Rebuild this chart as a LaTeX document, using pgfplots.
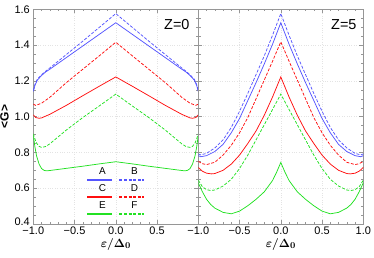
\documentclass[border=0pt]{standalone}
\usepackage{pgfplots}
\pgfplotsset{compat=1.18}
\usepackage{fontspec}
\setmainfont{Liberation Sans}
\usepackage{bm}
\definecolor{cblue}{RGB}{85,85,255}
\definecolor{cred}{RGB}{255,15,15}
\definecolor{cgreen}{RGB}{35,225,35}
\definecolor{frm}{RGB}{150,150,150}
\pgfplotsset{
  panel/.style={
    width=165bp, height=214.7bp, scale only axis,
    xmin=-1, xmax=1, ymin=0.4, ymax=1.6,
    axis line style={frm, line width=0.5bp},
    tick style={frm, line width=0.4bp},
    major tick length=4bp, minor tick length=2.2bp,
    tick align=inside,
    minor x tick num=4, minor y tick num=3,
    grid=major, grid style={gray!22, dotted, line width=0.4bp},
    ytick={0.4,0.6,0.8,1.0,1.2,1.4,1.6},
    every tick label/.append style={font=\fontsize{11}{12}\selectfont},
    xticklabel style={yshift=1bp},
    xlabel={$\bm{\varepsilon/\Delta_0}$},
    xlabel style={font=\fontsize{13}{14}\selectfont, yshift=3bp},
    every axis plot/.append style={line width=0.75bp},
    anchor=south west,
  },
  sd/.style={solid},
  ds/.style={dash pattern=on 3bp off 1.6bp},
}
\begin{document}
\begin{tikzpicture}
\useasboundingbox (0,0) rectangle (374bp,258bp);
\begin{axis}[panel, at={(33.3bp,34bp)},
  xtick={-1,-0.5,0,0.5}, xticklabels={−1.0,−0.5,0.0,0.5},
  yticklabels={\raisebox{5.5bp}{0.4},0.6,0.8,1.0,1.2,1.4,1.6},
  ylabel={\textbf{<G>}}, ylabel style={font=\fontsize{12}{13}\selectfont, yshift=-1bp},
  legend columns=2,
  legend style={at={(axis cs:0.027,0.597)}, anchor=center, draw=none, fill=none,
    font=\fontsize{10}{11}\selectfont, row sep=4.5bp,
    /tikz/every even column/.append style={column sep=20bp}},
  legend image code/.code={\path (0,0); \draw[#1, overlay, line width=1.9bp] (-9bp,-8bp) -- (16bp,-8bp);},
]
\addplot[cblue, sd] coordinates {(-1,1.14)(-0.98,1.175)(-0.95,1.205)(-0.9,1.23)(-0.85,1.25)(-0.8,1.265)(-0.6,1.33)(-0.4,1.395)(-0.2,1.46)(0,1.525)(0.2,1.46)(0.4,1.395)(0.6,1.33)(0.8,1.265)(0.85,1.25)(0.9,1.23)(0.95,1.205)(0.98,1.175)(1,1.14)};
\addlegendentry{A}
\addplot[cblue, ds] coordinates {(-1,1.145)(-0.98,1.18)(-0.95,1.21)(-0.9,1.234)(-0.85,1.254)(-0.8,1.272)(-0.6,1.347)(-0.4,1.422)(-0.2,1.499)(0,1.576)(0.2,1.499)(0.4,1.422)(0.6,1.347)(0.8,1.272)(0.85,1.254)(0.9,1.234)(0.95,1.21)(0.98,1.18)(1,1.145)};
\addlegendentry{B}
\addplot[cred, sd] coordinates {(-1,1.01)(-0.97,0.995)(-0.93,0.991)(-0.9,0.993)(-0.8,1.013)(-0.6,1.063)(-0.4,1.117)(-0.2,1.17)(0,1.222)(0.2,1.17)(0.4,1.117)(0.6,1.063)(0.8,1.013)(0.9,0.993)(0.93,0.991)(0.97,0.995)(1,1.01)};
\addlegendentry{C}
\addplot[cred, ds] coordinates {(-1,1.07)(-0.97,1.063)(-0.9,1.075)(-0.8,1.108)(-0.6,1.19)(-0.4,1.265)(-0.2,1.34)(0,1.416)(0.2,1.34)(0.4,1.265)(0.6,1.19)(0.8,1.108)(0.9,1.075)(0.97,1.063)(1,1.07)};
\addlegendentry{D}
\addplot[cgreen, sd] coordinates {(-1,0.895)(-0.98,0.83)(-0.96,0.78)(-0.93,0.735)(-0.9,0.71)(-0.87,0.70)(-0.84,0.697)(-0.8,0.699)(-0.6,0.711)(-0.4,0.723)(-0.2,0.736)(0,0.748)(0.2,0.736)(0.4,0.723)(0.6,0.711)(0.8,0.699)(0.84,0.697)(0.87,0.70)(0.9,0.71)(0.93,0.735)(0.96,0.78)(0.98,0.83)(1,0.895)};
\addlegendentry{E}
\addplot[cgreen, ds] coordinates {(-1,0.905)(-0.98,0.875)(-0.96,0.852)(-0.93,0.834)(-0.9,0.828)(-0.85,0.833)(-0.8,0.848)(-0.6,0.925)(-0.4,0.995)(-0.2,1.06)(0,1.126)(0.2,1.06)(0.4,0.995)(0.6,0.925)(0.8,0.848)(0.85,0.833)(0.9,0.828)(0.93,0.834)(0.96,0.852)(0.98,0.875)(1,0.905)};
\addlegendentry{F}
\node[anchor=east, font=\fontsize{14.5}{16}\selectfont] at (rel axis cs:0.968,0.927) {Z=0};
\end{axis}
\begin{axis}[panel, at={(198.3bp,34bp)},
  xtick={-1,-0.5,0,0.5,1}, xticklabels={−1.0,−0.5,0.0,0.5,1.0},
  yticklabels={},
]
\addplot[cblue, sd] coordinates {(-1,0.782)(-0.97,0.776)(-0.9,0.782)(-0.8,0.805)(-0.7,0.845)(-0.6,0.91)(-0.5,0.99)(-0.4,1.09)(-0.3,1.19)(-0.2,1.295)(-0.1,1.405)(0,1.525)(0.1,1.405)(0.2,1.295)(0.3,1.19)(0.4,1.09)(0.5,0.99)(0.6,0.91)(0.7,0.845)(0.8,0.805)(0.9,0.782)(0.97,0.776)(1,0.782)};
\addplot[cblue, ds] coordinates {(-1,0.792)(-0.97,0.786)(-0.9,0.795)(-0.8,0.825)(-0.7,0.87)(-0.6,0.94)(-0.5,1.03)(-0.4,1.13)(-0.3,1.235)(-0.2,1.34)(-0.1,1.455)(0,1.576)(0.1,1.455)(0.2,1.34)(0.3,1.235)(0.4,1.13)(0.5,1.03)(0.6,0.94)(0.7,0.87)(0.8,0.825)(0.9,0.795)(0.97,0.786)(1,0.792)};
\addplot[cred, sd] coordinates {(-1,0.716)(-0.95,0.695)(-0.9,0.684)(-0.84,0.680)(-0.8,0.682)(-0.7,0.70)(-0.6,0.735)(-0.5,0.785)(-0.4,0.85)(-0.3,0.92)(-0.2,1.008)(-0.1,1.11)(0,1.222)(0.1,1.11)(0.2,1.008)(0.3,0.92)(0.4,0.85)(0.5,0.785)(0.6,0.735)(0.7,0.70)(0.8,0.682)(0.84,0.680)(0.9,0.684)(0.95,0.695)(1,0.716)};
\addplot[cred, ds] coordinates {(-1,0.75)(-0.95,0.737)(-0.9,0.732)(-0.8,0.745)(-0.7,0.785)(-0.6,0.84)(-0.5,0.91)(-0.4,0.995)(-0.3,1.10)(-0.2,1.205)(-0.1,1.31)(0,1.418)(0.1,1.31)(0.2,1.205)(0.3,1.10)(0.4,0.995)(0.5,0.91)(0.6,0.84)(0.7,0.785)(0.8,0.745)(0.9,0.732)(0.95,0.737)(1,0.75)};
\addplot[cgreen, sd] coordinates {(-1,0.63)(-0.95,0.58)(-0.9,0.538)(-0.85,0.509)(-0.8,0.489)(-0.7,0.465)(-0.6,0.457)(-0.5,0.472)(-0.4,0.502)(-0.3,0.538)(-0.2,0.58)(-0.1,0.643)(-0.05,0.69)(0,0.744)(0.05,0.69)(0.1,0.643)(0.2,0.58)(0.3,0.538)(0.4,0.502)(0.5,0.472)(0.6,0.457)(0.7,0.465)(0.8,0.489)(0.85,0.509)(0.9,0.538)(0.95,0.58)(1,0.63)};
\addplot[cgreen, ds] coordinates {(-1,0.645)(-0.95,0.608)(-0.9,0.592)(-0.85,0.587)(-0.8,0.590)(-0.7,0.612)(-0.6,0.65)(-0.5,0.71)(-0.4,0.785)(-0.3,0.87)(-0.2,0.955)(-0.1,1.04)(0,1.126)(0.1,1.04)(0.2,0.955)(0.3,0.87)(0.4,0.785)(0.5,0.71)(0.6,0.65)(0.7,0.612)(0.8,0.590)(0.85,0.587)(0.9,0.592)(0.95,0.608)(1,0.645)};
\node[anchor=east, font=\fontsize{14.5}{16}\selectfont] at (rel axis cs:0.98,0.927) {Z=5};
\end{axis}
\end{tikzpicture}
\end{document}
